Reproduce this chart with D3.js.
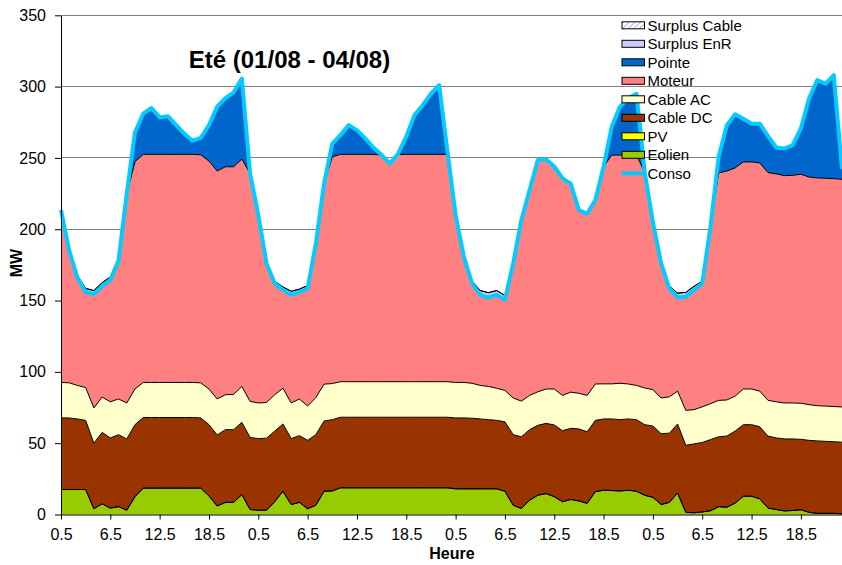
<!DOCTYPE html>
<html><head><meta charset="utf-8">
<script src="https://cdn.jsdelivr.net/npm/d3@7"></script>
<style>body{margin:0;background:#fff} svg{display:block;font-family:"Liberation Sans",Arial,sans-serif}</style>
</head><body><svg id="c" width="842" height="565"></svg>
<script>
// ---- data ----
const title = "Eté (01/08 - 04/08)";
const hours = [0.5,1.5,2.5,3.5,4.5,5.5,6.5,7.5,8.5,9.5,10.5,11.5,12.5,13.5,14.5,15.5,16.5,17.5,18.5,19.5,20.5,21.5,22.5,23.5];
const days = ["01/08","02/08","03/08","04/08"];
const yTicks = [0,50,100,150,200,250,300,350];

const eolien = [
17.5,17.5,17.5,17.5,4,7.5,4.5,5.5,3,12.5,18.5,18.5,18.5,18.5,18.5,18.5,18.5,18.5,13,6,8.5,8.5,14,3.5,
3,3,9,16.3,7,8.5,4,6.5,16.3,16.5,18.7,18.7,18.7,18.7,18.7,18.7,18.7,18.7,18.7,18.7,18.7,18.7,18.7,18.7,
18,18,18,18,18,18,16.3,6.5,4.2,10,13.5,14.7,12.5,9,10.5,9.5,7.8,16,17,16.8,16.5,17,16.3,13.5,
12,7,8.5,15,1.5,1.2,1.8,2.6,5.5,5.1,8,12.8,12.8,11,4.5,3.5,2.5,2.8,3.3,1.5,0.8,0.8,0.8,0.5];
const pv = [
0,0,0,0,0,0,0,0,0,0,0,0,0,0,0,0,0,0,0,0,0,0,0,0,
0,0,0,0,0,0,0,0,0,0,0,0,0,0,0,0,0,0,0,0,0,0,0,0,
0,0,0,0,0,0,0,0,0,0,0,0,0,0,0,0,0,0,0,0,0,0,0,0,
0,0,0,0,0,0,0,0,0,0,0,0,0,0,0,0,0,0,0,0,0,0,0,0];
const cableDC = [
50.2,50.2,49.5,48.5,46,50.1,49.2,50.5,50,50.5,49.5,49.5,49.5,49.5,49.5,49.5,49.5,49.2,50,49.8,51,51,50.6,50.5,
50.2,50.5,49.5,47.2,46.2,46.8,48,49.5,49.2,50,49.5,49.5,49.5,49.5,49.5,49.5,49.5,49.5,49.5,49.5,49.5,49.5,49.5,49.5,
49.7,49.7,49.5,49,48.5,48,48.7,49.5,50.3,49.5,49,49.2,50.3,49.8,49.9,50.5,50.2,50,50,50.2,50,50,50.2,49.5,
50,49.7,48.5,48.5,47,48.3,48.7,49.9,49,49.9,50.5,50.2,50.2,50.5,50.5,50.2,50.5,50.2,49.4,50.5,50.8,50.5,50.2,50.2];
const cableAC = [
24.9,24.6,23.5,23,24.7,24.8,25.3,25,25.2,25,24.6,24.6,24.6,24.6,24.6,24.6,24.6,24.6,25,25.2,24.5,24.7,25.2,25.3,
25,25,25.5,25,25,25.7,24,26,25.9,25.3,24.9,24.9,24.9,24.9,24.9,24.9,24.9,24.9,24.9,24.9,24.9,24.9,24.9,24.9,
24.9,24.9,24.5,23.5,23.3,22.5,22,25.7,25,24,23.5,24.1,25.2,24.7,25.4,25,25.5,25.5,24.6,24.6,25.5,24.5,24,25.7,
25.5,25,25.5,23,24.5,24,25,25.2,25.5,25.3,24.5,25,25,25,25,25.3,25.2,25.2,25.3,25,24.7,24.7,24.7,24.7];
const moteur = [
120.9,92.7,75.5,67,79.8,77.6,85.5,97,146.8,159.3,159.9,159.9,159.9,159.9,159.9,159.9,159.9,159.9,159.8,159.8,159.8,159.6,159.4,159.7,
131.8,97.5,78,69,75.8,75,82.5,108,140.6,159,159.4,159.4,159.4,159.4,159.4,158.9,152.9,159.4,159.4,159.4,159.4,159.4,159.4,159.4,
117.4,88.2,70,63.5,62.2,65.5,63.5,94.3,127,144,162.5,161,156,152.2,146.2,128.5,127.3,129,152.4,160.4,160,160.5,161.5,151.3,
117.5,94.3,76,65.7,79.7,84,86.5,124.1,159.5,160.5,160,159.2,159.2,160,159.7,159.8,159.4,159.6,160.6,159.6,159.7,159.7,159.8,159.6];
const pointe = [
0,0,0,0,0,0,0,0,0,20.7,28.5,32.5,25.9,26.8,20.5,14.5,9.5,11.5,25.2,45.2,48.2,52.2,56.5,0,
0,0,0,0,0,0,0,0,0,9.2,13.5,20.5,17,11.2,4.8,0,0,0.5,12.5,27.5,34.5,42.5,48.5,2.5,
0,0,0,0,0,0,0,0,0,0,0,0,0,0,0,0,0,0,0,20,34,39.8,43,0,
0,0,0,0,0,0,0,0,11.5,32.2,37.6,30.3,26.8,27.5,25.6,18.5,19,21.2,32.1,55.2,68.5,66.3,72.5,7];
const surplusEnR = [
0,0,1.5,2.5,2.5,2.5,2,1,0,0,0,0,0,0,0,0,0,0,0,0,0,0,0,0,
0,0,1.5,2,2.5,2,2,0,0,0,0,0,0,0,0,0,0,0,0,0,0,0,0,0,
0,0,1.5,3,3.5,3,3,0,0,0,0,0,0,0,0,0,0,0,0,0,0,0,0,0,
0,0,1.5,3,3,2.5,1.5,0,0,0,0,0,0,0,0,0,0,0,0,0,0,0,0,0];
const surplusCable = [
0,0,0,0,0,0,0,0,0,0,0,0,0,0,0,0,0,0,0,0,0,0,0,0,
0,0,0,0,0,0,0,0,0,0,0,0,0,0,0,0,0,0,0,0,0,0,0,0,
0,0,0,0,0,0,0,0,0,0,0,0,0,0,0,0,0,0,0,0,0,0,0,0,
0,0,0,0,0,0,0,0,0,0,0,0,0,0,0,0,0,0,0,0,0,0,0,0];
const conso = [
213.5,185,166,156,154.5,160,164.5,178,225,268,281,285,278.4,279.3,273,267,262,264,273,286,292,296,305.7,239,
210,176,162,157.5,154,156,158.5,190,232,260,266,273,269.5,263.7,257.3,252,246,253,265,280,287,295,301,255,
210,180.8,162,154,152,154,150.5,176,206.5,227.5,248.5,249,244,235.7,232,213.5,210.8,220.5,244,272,286,291.8,295,240,
205,176,158.5,152.2,152.7,157.5,162,201.8,251,273,280.6,277.5,274,274,265.3,257.3,256.6,259,270.7,291.8,304.5,302,308,242];

// ---- build ----
const categories = days.flatMap((d, di) => hours.map((h, hi) => di * 24 + hi));
const seriesDefs = [
  {key:"Eolien", values:eolien, fill:"#99CC00"},
  {key:"PV", values:pv, fill:"#FFFF00"},
  {key:"Cable DC", values:cableDC, fill:"#993300"},
  {key:"Cable AC", values:cableAC, fill:"#FFFFCC"},
  {key:"Moteur", values:moteur, fill:"#FF8080"},
  {key:"Pointe", values:pointe, fill:"#0066CC"},
  {key:"Surplus EnR", values:surplusEnR, fill:"#CCCCFF"},
  {key:"Surplus Cable", values:surplusCable, fill:"url(#hatch)"}
];
const table = categories.map((c, i) => {
  const row = {idx:c};
  seriesDefs.forEach(s => row[s.key] = s.values[i]);
  return row;
});

const svg = d3.select("#c");
const defs = svg.append("defs");
const pat = defs.append("pattern").attr("id","hatch").attr("patternUnits","userSpaceOnUse")
  .attr("width",4).attr("height",4).attr("patternTransform","rotate(45)");
pat.append("rect").attr("width",4).attr("height",4).attr("fill","#fff");
pat.append("line").attr("x1",0).attr("y1",0).attr("x2",0).attr("y2",4).attr("stroke","#9999FF").attr("stroke-width",1.5);

const L = 61, R = 842, T = 15.3, B = 514.5;
const x = d3.scalePoint().domain(categories).range([L, R]);
const y = d3.scaleLinear().domain([0, 350]).range([B, T]);

// gridlines
svg.append("g").selectAll("line").data(yTicks.filter(v => v > 0)).join("line")
  .attr("x1", L).attr("x2", R).attr("y1", d => y(d)).attr("y2", d => y(d))
  .attr("stroke", "#808080").attr("stroke-width", 1).attr("shape-rendering","crispEdges");

const stack = d3.stack().keys(seriesDefs.map(s => s.key));
const stacked = stack(table);

const area = d3.area().x(d => x(d.data.idx)).y0(d => y(d[0])).y1(d => y(d[1]));
const topLine = d3.line().x(d => x(d.data.idx)).y(d => y(d[1]));

const gA = svg.append("g");
stacked.forEach((layer, li) => {
  gA.append("path").attr("d", area(layer)).attr("fill", seriesDefs[li].fill).attr("stroke","none");
});
stacked.forEach((layer, li) => {
  gA.append("path").attr("d", topLine(layer)).attr("fill","none").attr("stroke","#000").attr("stroke-width",1);
});

// conso line
svg.append("path").datum(conso)
  .attr("d", d3.line().x((d, i) => x(categories[i])).y(d => y(d)))
  .attr("fill","none").attr("stroke","#00CCFF").attr("stroke-width",4).attr("stroke-linejoin","round");

// axes
const xAxis = d3.axisBottom(x).tickValues(categories.filter(c => c % 6 === 0))
  .tickFormat(c => hours[c % 24]).tickSize(5).tickSizeOuter(0);
const gx = svg.append("g").attr("transform", `translate(0,${B})`).call(xAxis);
gx.selectAll("text").attr("font-size", 16).attr("fill","#000").attr("y", 14).attr("font-family",'"Liberation Sans",Arial,sans-serif');
gx.selectAll("line,path").attr("stroke","#000");

const yAxis = d3.axisLeft(y).tickValues(yTicks).tickSize(6).tickSizeOuter(0).tickPadding(9);
const gy = svg.append("g").attr("transform", `translate(${L},0)`).call(yAxis);
gy.selectAll("text").attr("font-size", 16).attr("fill","#000").attr("font-family",'"Liberation Sans",Arial,sans-serif');
gy.selectAll("line,path").attr("stroke","#000");

// labels
svg.append("text").attr("x", 289.5).attr("y", 68).attr("text-anchor","middle")
  .attr("font-size", 24).attr("font-weight","bold").text(title);
svg.append("text").attr("transform","translate(22,263) rotate(-90)").attr("text-anchor","middle")
  .attr("font-size", 16).attr("font-weight","bold").text("MW");
svg.append("text").attr("x", 452).attr("y", 559).attr("text-anchor","middle")
  .attr("font-size", 16).attr("font-weight","bold").text("Heure");

// legend
const legendItems = [
  {key:"Surplus Cable", fill:"url(#hatch)"},
  {key:"Surplus EnR", fill:"#CCCCFF"},
  {key:"Pointe", fill:"#0066CC"},
  {key:"Moteur", fill:"#FF8080"},
  {key:"Cable AC", fill:"#FFFFCC"},
  {key:"Cable DC", fill:"#993300"},
  {key:"PV", fill:"#FFFF00"},
  {key:"Eolien", fill:"#99CC00"},
  {key:"Conso", line:"#00CCFF"}
];
const lg = svg.append("g");
legendItems.forEach((it, i) => {
  const cy = 25.3 + i * 18.5;
  if (it.line) {
    lg.append("line").attr("x1", 621.5).attr("x2", 645).attr("y1", cy).attr("y2", cy)
      .attr("stroke", it.line).attr("stroke-width", 4);
  } else {
    lg.append("rect").attr("x", 622).attr("y", cy - 3.5).attr("width", 22.5).attr("height", 7)
      .attr("fill", it.fill).attr("stroke","#000").attr("stroke-width",1);
  }
  lg.append("text").attr("x", 647.5).attr("y", cy + 5.5).attr("font-size", 15).attr("fill","#000").text(it.key);
});
</script>
</body></html>
